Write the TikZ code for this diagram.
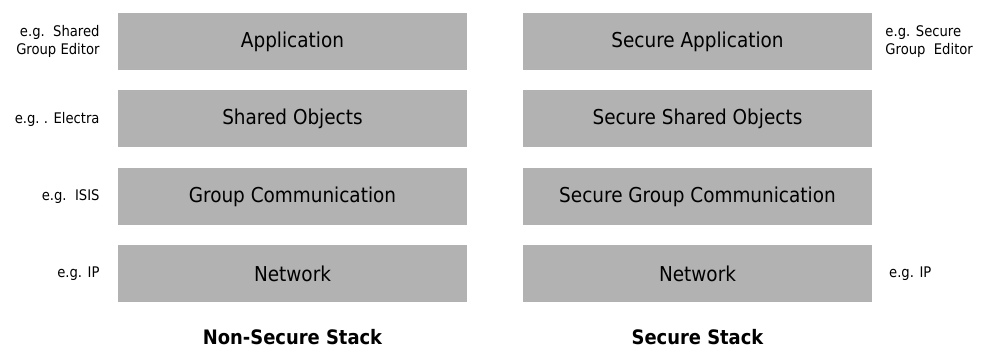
\documentclass[tikz,border=0pt]{standalone}
\usepackage{fontspec}
\setmainfont{DejaVu Sans Condensed}
\usepackage{tikz}
\usetikzlibrary{positioning}
\tikzstyle{layer} = [rectangle,fill=black!30,minimum width=10.47cm,minimum height=1.71cm,inner sep=0pt,font=\fontsize{17.5}{20}\selectfont]
\tikzstyle{note} = [inner sep=0pt,font=\fontsize{12.5}{15}\selectfont]
\tikzstyle{lnote} = [note,align=right]
\tikzstyle{rnote} = [note,align=left]
\tikzstyle{title} = [inner sep=0pt,font=\fontsize{17}{20}\selectfont\bfseries]

\begin{document}
\begin{tikzpicture}[x=0.03cm,y=-0.03cm]
  \useasboundingbox (0,0) rectangle (987,351);

  % non-secure stack
  \node [layer] (lapp) at (292.5,41.5) {Application};
  \node [layer,below=0.6cm of lapp] (lobj) {Shared Objects};
  \node [layer,below=0.6cm of lobj] (lgrp) {Group Communication};
  \node [layer,below=0.6cm of lgrp] (lnet) {Network};

  \node [lnote,left=0.54cm of lapp] (n1) {e.g.\ \ Shared\\Group Editor};
  \node [lnote,left=0.54cm of lobj] (n2) {e.g.\ . Electra};
  \node [lnote,left=0.54cm of lgrp] (n3) {e.g.\ \ ISIS};
  \node [lnote,left=0.54cm of lnet] (n4) {e.g. IP};

  \node [title,below=0.8cm of lnet] (t1) {Non-Secure Stack};

  % secure stack
  \node [layer] (rapp) at (697.5,41.5) {Secure Application};
  \node [layer,below=0.6cm of rapp] (robj) {Secure Shared Objects};
  \node [layer,below=0.6cm of robj] (rgrp) {Secure Group Communication};
  \node [layer,below=0.6cm of rgrp] (rnet) {Network};

  \node [rnote,right=0.39cm of rapp] (n5) {e.g. Secure\\Group\ \ Editor};
  \node [rnote,right=0.5cm of rnet] (n6) {e.g. IP};

  \node [title,below=0.8cm of rnet] (t2) {Secure Stack};
\end{tikzpicture}
\end{document}
